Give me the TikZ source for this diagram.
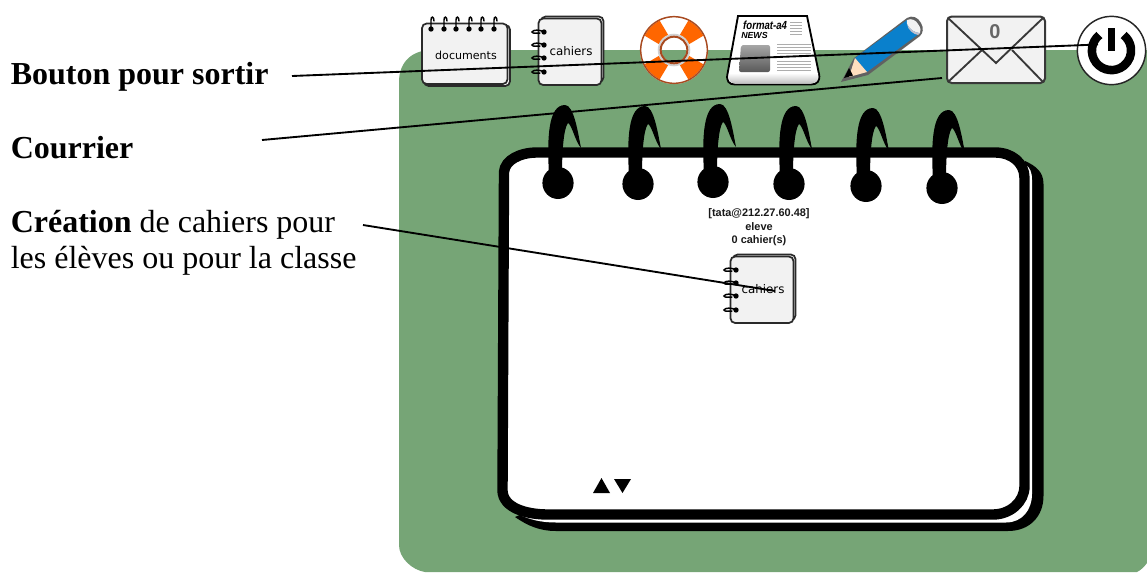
\documentclass[tikz,border=0pt]{standalone}
\usepackage{fontspec}
\setmainfont{Liberation Serif}
\newfontfamily\iconfont{DejaVu Sans}
\newfontfamily\hdfont{Liberation Sans}
\usetikzlibrary{calc}
\definecolor{tablegreen}{HTML}{76A576}
\definecolor{iconfill}{HTML}{F2F2F2}
\definecolor{iconline}{HTML}{2A2A2A}
\definecolor{buoyorange}{HTML}{FF6600}
\definecolor{buoyrim}{HTML}{A84A20}
\definecolor{pencilblue}{HTML}{0A80CC}
\tikzset{
  connector/.style={draw=black,line width=1.4pt},
  caption/.style={anchor=base west,inner sep=0pt,font=\fontsize{24}{28}\selectfont},
  iconbody/.style={draw=iconline,fill=iconfill,line width=1.3pt,rounded corners=3.5pt},
  iconlabel/.style={inner sep=0pt,text=black},
  headerlabel/.style={inner sep=0pt,font=\hdfont\bfseries\fontsize{8.2}{10}\selectfont,text=black!90},
  hookline/.style={draw=black,line width=1.1pt,line cap=round},
  paperline/.style={draw=black!32,line width=0.35pt},
}
\newcommand\bigring[2]{%
  \fill[black,shift={(#1,#2)}] (-9,-8) .. controls (-11,-45) and (-10,-78) .. (7,-78)
     .. controls (16,-78) and (20,-50) .. (23,-35)
     .. controls (17,-42) and (14,-58) .. (10,-60)
     .. controls (6,-55) and (4,-35) .. (4,-8) -- cycle;
  \fill[black] (#1,#2) ellipse[x radius=11.7pt,y radius=12pt];
}
\newcommand\cahiericon[3]{%
  \begin{scope}[shift={(#1,#2)}]
    \draw[iconbody,fill=white] (541,16.5) rectangle (603.5,82);
    \draw[iconbody] (538.5,18.5) rectangle (601.5,85);
    \foreach \ry in {32,45,58,72}{
      \draw[hookline] (544,\ry) .. controls (540,\ry-2.5) and (533,\ry-2.5) .. (532,\ry)
          .. controls (533,\ry+2) and (537,\ry+1) .. (540,\ry+1);
      \fill[black] (544,\ry) circle[radius=2pt];
    }
    \node[iconlabel,font=\iconfont\fontsize{8.9}{10}\selectfont] (#3) at (571,51) {cahiers};
  \end{scope}
}
\begin{document}
\begin{tikzpicture}[x=0.75pt,y=-0.75pt]
\useasboundingbox (0,0) rectangle (1147,572);
\fill[white] (0,0) rectangle (1147,572);

% green table
\fill[tablegreen] (399,82) .. controls (399,62) and (412,50) .. (432,50) -- (1160,50) -- (1160,550)
  -- (1147,563) .. controls (1144,567) and (1141,570) .. (1137,572) -- (425,572)
  .. controls (412,570) and (399,558) .. (399,545) -- cycle;

% back page of the notebook
\fill[black] (515,517) .. controls (528,526) and (540,531) .. (556,531) -- (1008,531)
  .. controls (1030,531) and (1043.5,516) .. (1043.5,496) -- (1043.5,184)
  .. controls (1043.5,172) and (1036,166) .. (1025,161) -- (1015,300) -- cycle;
\fill[white] (518,514) .. controls (530,520) and (542,522.5) .. (556,522.5) -- (1006,522.5)
  .. controls (1022,522.5) and (1032,510) .. (1032,494) -- (1032,180)
  .. controls (1032,172) and (1030,168) .. (1026,165) -- (1015,300) -- cycle;

% front page of the notebook
\draw[black,fill=white,line width=7.8pt] (504,172) .. controls (505,160) and (520,152.5) .. (537,152.5)
  -- (995,152.5) .. controls (1012,152.5) and (1024.5,163) .. (1024.5,178)
  -- (1024.5,486) .. controls (1024.5,502) and (1010,514.5) .. (993,514.5)
  -- (548,514.5) .. controls (526,514.5) and (503.5,508) .. (502.5,491) -- cycle;

% spiral rings
\bigring{558}{183}
\bigring{638}{184}
\bigring{713}{182}
\bigring{789}{184}
\bigring{866}{186}
\bigring{942}{188}

% user header
\node[headerlabel] (headuser) at (759,214) {[tata@212.27.60.48]};
\node[headerlabel] (headrole) at (759,227) {eleve};
\node[headerlabel] (headcount) at (759,241) {0 cahier(s)};

% up / down triangles
\fill[black] (593,493) -- (610,493) -- (601.5,478) -- cycle;
\fill[black] (614,479) -- (631,479) -- (622.5,493) -- cycle;

% documents icon
\draw[iconbody,fill=white] (424,25) rectangle (510,86);
\draw[iconbody] (422,23.5) rectangle (507.5,84);
\foreach \rx in {431,444,456,469,481,494}{
  \draw[hookline] (\rx,29) -- (\rx,20) .. controls (\rx,16) and (\rx+3,16) .. (\rx+3,21);
  \fill[black] (\rx,29) circle[radius=2pt];
}
\node[iconlabel,font=\iconfont\fontsize{8.3}{10}\selectfont] (doclabel) at (466,55) {documents};

% cahiers icons
\cahiericon{0}{0}{cahierlabel}
\cahiericon{192}{238}{cahierinner}

% lifebuoy
\begin{scope}[shift={(674,50)}]
  \fill[white,even odd rule] (0,0) circle[radius=25.5pt] (0,0) circle[radius=9.5pt];
  \foreach \a in {45,135,225,315}{
    \fill[buoyorange] (\a-19:24.5pt) arc[start angle=\a-19,end angle=\a+19,radius=24.5pt]
      -- (\a+24:12pt) arc[start angle=\a+24,end angle=\a-24,radius=12pt] -- cycle;
  }
  \draw[black!18,line width=1.4pt] (0,0) circle[radius=11.5pt];
  \draw[buoyrim,line width=1.1pt] (0,0) circle[radius=25pt];
  \draw[buoyrim,line width=1.5pt] (0,0) circle[radius=10pt];
\end{scope}

% newspaper icon
\draw[black,fill=white,line width=1.4pt] (738,16) -- (807,16) -- (819,74)
  .. controls (820.5,81) and (817,84.5) .. (811,84.5) -- (735,84.5)
  .. controls (729,84.5) and (726,81) .. (727.5,74) -- cycle;
\shade[top color=white,bottom color=black!25] (729,73) -- (818,73) .. controls (819,80) and (816,83.5) .. (811,83.5)
  -- (735,83.5) .. controls (730,83.5) and (728,80) .. (729,73) -- cycle;
\shade[top color=black!35,bottom color=black!65,rounded corners=1.5pt] (741,45) -- (770,45) -- (770,72) -- (739,72) -- cycle;
\foreach \ly in {44,47,50,53,56,61,64,67,70}{\draw[paperline] (777,\ly) -- (811,\ly);}
\foreach \ly in {22,25,28,31,34}{\draw[paperline] (790,\ly) -- (802,\ly);}
\node[inner sep=0pt,anchor=base west,xscale=0.82,font=\hdfont\bfseries\itshape\fontsize{8.8}{10}\selectfont] (newstitle) at (743,29) {format-a4};
\node[inner sep=0pt,anchor=base west,font=\hdfont\bfseries\itshape\fontsize{6.6}{8}\selectfont] (newsname) at (741,38) {NEWS};

% pencil
\fill[black!62] (841,82) -- (854,58) -- (907,18) .. controls (912,15) and (918,17) .. (921,23) .. controls (924,28) and (923,33) .. (920,36) -- (868,75) -- cycle;
\fill[pencilblue] (855,58) -- (907,20) -- (920,33) -- (867,72) -- cycle;
\fill[black!5!white] (907,20) .. controls (911,18) and (916,20) .. (918,24) .. controls (921,28) and (921,31) .. (920,33) .. controls (916,33) and (911,30) .. (909,27) .. controls (907,25) and (906,22) .. (907,20) -- cycle;
\fill[blue!20!black!25] (909,27) .. controls (911,30) and (916,33) .. (920,33) -- (918,35) .. controls (913,34) and (908,30) .. (907,24) -- cycle;
\fill[orange!25!white] (855,58) -- (867,72) -- (849,77) -- cycle;
\fill[black] (849,68) -- (853,75.5) -- (844,78) -- cycle;

% envelope
\draw[iconbody,draw=black!78,line width=1.5pt] (947,16.5) rectangle (1045,83);
\draw[draw=black!78,line width=1.4pt] (948,18) -- (996,63) -- (1043,18);
\draw[draw=black!78,line width=1.4pt] (948,82) -- (982,50);
\draw[draw=black!78,line width=1.4pt] (1012,50) -- (1043,82);
\node[inner sep=0pt,text=black!60,font=\hdfont\bfseries\fontsize{15}{16}\selectfont] (mailcount) at (995,32) {0};

% power button
\begin{scope}[shift={(1111.5,50.5)}]
  \draw[black!85,fill=white,line width=1.1pt] (0,0) circle[radius=25.6pt];
  \draw[black,line width=6.4pt] (128:14.7pt) arc[start angle=128,end angle=412,radius=14.7pt];
  \fill[black] (-2.5pt,16.8pt) rectangle (2.5pt,-0.5pt);
\end{scope}

% captions
\node[caption,font=\bfseries\fontsize{24}{28}\selectfont] (lblsortir) at (10.5,84.5) {Bouton pour sortir};
\node[caption,font=\bfseries\fontsize{24}{28}\selectfont] (lblcourrier) at (10.5,158.5) {Courrier};
\node[caption] (lblcreation) at (10.5,232) {\textbf{Création} de cahiers pour};
\node[caption] (lbleleves) at (10.5,268) {les élèves ou pour la classe};

% connectors
\coordinate (sortirstart) at (292,76);
\coordinate (sortirend) at (1098,44.5);
\coordinate (courrierstart) at (262,140);
\coordinate (courrierend) at (942,78);
\coordinate (creationstart) at (363,225);
\coordinate (creationend) at (775,291);
\draw[connector] (sortirstart) -- (sortirend);
\draw[connector] (courrierstart) -- (courrierend);
\draw[connector] (creationstart) -- (creationend);
\end{tikzpicture}
\end{document}
